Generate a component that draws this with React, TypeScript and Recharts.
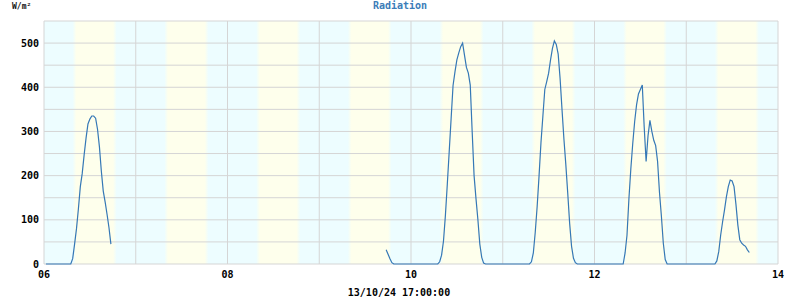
import React from 'react';
import { LineChart, Line, XAxis, YAxis, CartesianGrid, ReferenceArea } from 'recharts';

// day labels along the x axis (one gridline per day, a label every 2 days)
const dayLabels = ['06', '07', '08', '09', '10', '11', '12', '13', '14'];
const labelledDays = ['06', '08', '10', '12', '14'];

const yTicks = [0, 50, 100, 150, 200, 250, 300, 350, 400, 450, 500, 550];
const yLabelled = [0, 100, 200, 300, 400, 500];

// daylight (yellow) bands, one per day
const sunrise = ['07:30', '07:30', '07:30', '07:30', '07:30', '07:30', '07:30', '07:30'];
const sunset = ['19:00', '19:00', '19:00', '18:55', '19:00', '19:00', '18:55', '19:00'];

// radiation readings W/m², [time, value]
const oct06: [string, number][] = [
  ['00:30', 0], ['07:00', 0], ['07:30', 12], ['08:00', 45], ['08:30', 80], ['09:00', 125],
  ['09:30', 175], ['10:00', 205], ['10:30', 247], ['11:00', 285], ['11:30', 317], ['12:00', 328],
  ['12:30', 335], ['13:00', 335], ['13:30', 330], ['14:00', 305], ['14:30', 265], ['15:00', 210],
  ['15:30', 165], ['16:00', 140], ['16:30', 112], ['17:00', 82], ['17:30', 45],
];
const oct09: [string, number][] = [
  ['17:30', 32], ['18:00', 22], ['18:30', 12], ['19:00', 3], ['19:30', 0],
];
const oct10: [string, number][] = [
  ['07:00', 0], ['07:30', 5], ['08:00', 20], ['08:30', 52], ['09:00', 110], ['09:30', 181],
  ['10:00', 255], ['10:30', 330], ['11:00', 404], ['11:30', 435], ['12:00', 462], ['12:30', 478],
  ['13:00', 492], ['13:30', 500], ['14:00', 472], ['14:30', 445], ['15:00', 432], ['15:30', 405],
  ['16:00', 300], ['16:30', 200], ['17:00', 148], ['17:30', 100], ['18:00', 45], ['18:30', 15],
  ['19:00', 2], ['19:30', 0],
];
const oct11: [string, number][] = [
  ['07:00', 0], ['07:30', 5], ['08:00', 25], ['08:30', 72], ['09:00', 130], ['09:30', 200],
  ['10:00', 275], ['10:30', 335], ['11:00', 395], ['11:30', 413], ['12:00', 432], ['12:30', 462],
  ['13:00', 488], ['13:30', 505], ['14:00', 497], ['14:30', 475], ['15:00', 420], ['15:30', 350],
  ['16:00', 283], ['16:30', 225], ['17:00', 160], ['17:30', 92], ['18:00', 40], ['18:30', 13],
  ['19:00', 3], ['19:30', 0],
];
const oct12: [string, number][] = [
  ['07:30', 0], ['08:00', 25], ['08:30', 65], ['09:00', 147], ['09:30', 215], ['10:00', 272],
  ['10:30', 322], ['11:00', 360], ['11:30', 385], ['12:00', 395], ['12:30', 405], ['13:00', 310],
  ['13:30', 232], ['14:00', 290], ['14:30', 325], ['15:00', 300], ['15:30', 280], ['16:00', 268],
  ['16:30', 232], ['17:00', 162], ['17:30', 108], ['18:00', 47], ['18:30', 10], ['19:00', 0],
];
const oct13: [string, number][] = [
  ['07:30', 0], ['08:00', 7], ['08:30', 28], ['09:00', 65], ['09:30', 95], ['10:00', 122],
  ['10:30', 152], ['11:00', 175], ['11:30', 190], ['12:00', 188], ['12:30', 175], ['13:00', 135],
  ['13:30', 88], ['14:00', 55], ['14:30', 47], ['15:00', 43], ['15:30', 40], ['16:00', 32],
  ['16:30', 26],
];

const toDay = (hhmm: string) => {
  const [h, m] = hhmm.split(':').map(Number);
  return h / 24 + m / 1440;
};

const blocks: [string, [string, number][]][] = [
  ['06', oct06], ['09', oct09], ['10', oct10], ['11', oct11], ['12', oct12], ['13', oct13],
];

const data: { t: number; v: number | null }[] = [];
blocks.forEach(([day, rows], bi) => {
  const off = dayLabels.indexOf(day);
  rows.forEach(([hm, v]) => data.push({ t: off + toDay(hm), v }));
  // gap between the 6th and the 9th: no readings
  if (bi === 0) data.push({ t: off + 1, v: null });
});

const CYAN = '#EDFDFF';
const YELLOW = '#FEFFEC';
const GRID = '#D5D5D5';
const FONT = '"DejaVu Sans Mono", monospace';
const W = 800;
const H = 300;
const MARGIN = { top: 21, right: 22, bottom: 0, left: 0 };
const tickStyle = { fill: '#000', fontSize: 10, fontWeight: 700, fontFamily: FONT };
const dayTicks = dayLabels.map((_, i) => i);

// bottom layer: night/day colour bands only (grid + line sit on a second chart above)
function Bands() {
  return (
    <LineChart width={W} height={H} data={data} margin={MARGIN}>
      <defs>
        <linearGradient id="dayBand" x1="0" y1="0" x2="1" y2="0">
          <stop offset="0" stopColor={CYAN} />
          <stop offset="0.08" stopColor={YELLOW} />
          <stop offset="0.92" stopColor={YELLOW} />
          <stop offset="1" stopColor={CYAN} />
        </linearGradient>
      </defs>
      <CartesianGrid stroke="none" fill={CYAN} fillOpacity={1} />
      {sunrise.map((s, i) => (
        <ReferenceArea
          key={i}
          x1={i + toDay(s)}
          x2={i + toDay(sunset[i])}
          y1={0}
          y2={550}
          fill="url(#dayBand)"
          fillOpacity={1}
          stroke="none"
        />
      ))}
      <XAxis dataKey="t" type="number" domain={[0, 8]} ticks={dayTicks} height={36} tick={false} axisLine={false} tickLine={false} />
      <YAxis type="number" domain={[0, 550]} ticks={yTicks} width={44} tick={false} axisLine={false} tickLine={false} />
      <Line dataKey="v" stroke="none" dot={false} isAnimationActive={false} />
    </LineChart>
  );
}

export default function App() {
  return (
    <div style={{ position: 'absolute', left: 0, top: 0, width: W, height: H, background: '#fff' }}>
      <div style={{ position: 'absolute', left: 0, top: 0 }}>
        <Bands />
      </div>
      <div style={{ position: 'absolute', left: 0, top: 0 }}>
        <LineChart width={W} height={H} data={data} margin={MARGIN}>
          <CartesianGrid stroke={GRID} />
          <XAxis
            dataKey="t"
            type="number"
            domain={[0, 8]}
            ticks={dayTicks}
            interval={0}
            height={36}
            axisLine={false}
            tickLine={false}
            tickMargin={1}
            tick={tickStyle}
            tickFormatter={(v: number) => (labelledDays.includes(dayLabels[v]) ? dayLabels[v] : '')}
          />
          <YAxis
            type="number"
            domain={[0, 550]}
            ticks={yTicks}
            interval={0}
            width={44}
            axisLine={false}
            tickLine={false}
            tickSize={5}
            tickMargin={0}
            tick={tickStyle}
            tickFormatter={(v: number) => (yLabelled.includes(v) ? String(v) : '')}
          />
          <Line
            type="linear"
            dataKey="v"
            stroke="#3578B6"
            strokeWidth={1.2}
            dot={false}
            connectNulls={false}
            isAnimationActive={false}
          />
        </LineChart>
      </div>
      <svg width={W} height={H} style={{ position: 'absolute', left: 0, top: 0, pointerEvents: 'none' }}>
        <text x={12} y={9} fontSize={8} fontWeight={700} fontFamily={FONT} fill="#111">W/m²</text>
        <text x={400} y={9} textAnchor="middle" fontSize={10} fontWeight={700} fontFamily={FONT} fill="#3C7CB8">
          Radiation
        </text>
        <text x={399} y={296} textAnchor="middle" fontSize={10} fontWeight={700} fontFamily={FONT} fill="#000">
          13/10/24 17:00:00
        </text>
      </svg>
    </div>
  );
}
